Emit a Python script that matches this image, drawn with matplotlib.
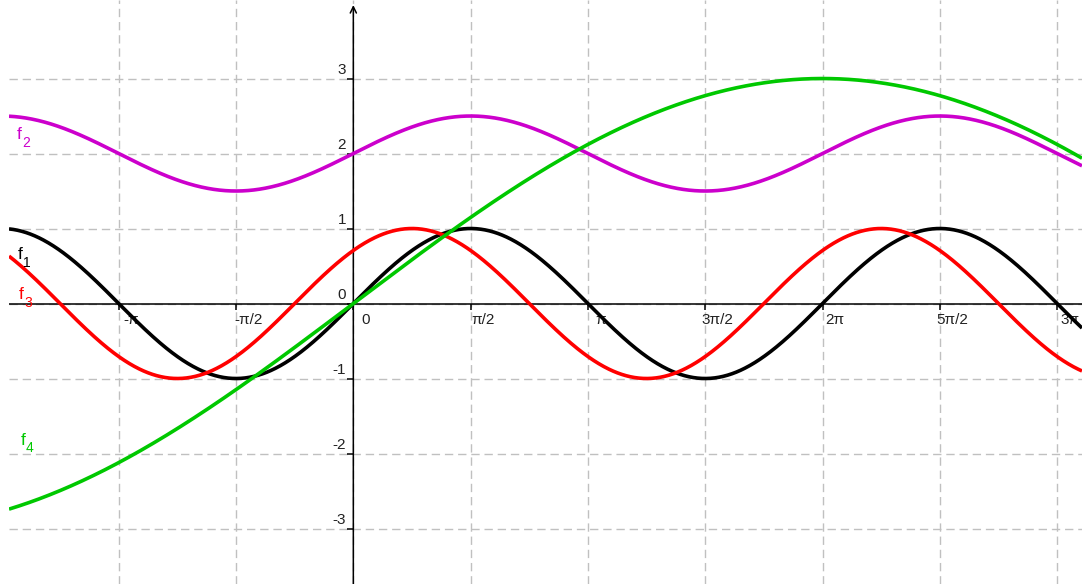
import numpy as np
import matplotlib
matplotlib.use('Agg')
import matplotlib.pyplot as plt
from matplotlib.markers import TICKDOWN, TICKLEFT

plt.rcParams['font.family'] = ['Liberation Sans', 'DejaVu Sans']

# functions: f(x) = offset + amp * sin(freq * x + phase)
names = ['f1', 'f2', 'f3', 'f4']
amps = [1.0, 0.5, 1.0, 3.0]
offsets = [0.0, 2.0, 0.0, 0.0]
freqs = [1.0, 1.0, 1.0, 0.25]
phases = [0.0, 0.0, np.pi / 4, 0.0]
colors = ['#000000', '#cc00cc', '#ff0000', '#00c800']

# axis ticks (multiples of pi/2) and labels
x_ticks = [k * np.pi / 2 for k in range(-2, 7)]
x_labels = ['-π', '-π/2', '0', 'π/2', 'π', '3π/2', '2π', '5π/2', '3π']
y_ticks = [-3, -2, -1, 0, 1, 2, 3]
y_labels = ['-3', '-2', '-1', '0', '1', '2', '3']

# where the name labels sit (data coords, left / baseline of the "f")
label_pos = [(-4.494, 0.589), (-4.51, 2.189), (-4.48, 0.056), (-4.46, -1.887)]

xmin, xmax = -4.611, 9.758
ymin, ymax = -3.74, 4.047

fig = plt.figure(figsize=(10.82, 5.84), dpi=100)
ax = fig.add_axes([9 / 1082, 0, 1 - 9 / 1082, 1])
ax.set_xlim(xmin, xmax)
ax.set_ylim(ymin, ymax)
for s in ax.spines.values():
    s.set_visible(False)

ax.set_xticks(x_ticks)
ax.set_yticks(y_ticks)
ax.tick_params(length=0, labelbottom=False, labelleft=False)
ax.grid(True, color='#c0c0c0', lw=1.0, linestyle=(0, (6, 3.5)))
ax.set_axisbelow(True)

# axes through the origin
ax.axhline(0, color='black', lw=1.1, zorder=2)
ax.annotate('', xy=(0, 3.98), xytext=(0, ymin),
            arrowprops=dict(arrowstyle='->,head_length=0.45,head_width=0.22',
                            lw=1.1, color='black', shrinkA=0, shrinkB=0),
            zorder=2)
ax.plot(x_ticks, [0] * len(x_ticks), ls='none', marker=TICKDOWN,
        ms=4, mew=1.1, color='black', zorder=2)
ax.plot([0] * len(y_ticks), y_ticks, ls='none', marker=TICKLEFT,
        ms=4, mew=1.1, color='black', zorder=2)

for xt, lab in zip(x_ticks, x_labels):
    ax.annotate(lab, (xt, 0), xytext=(9.0, -11.9), textcoords='offset points',
                ha='center', va='center', fontsize=11, color='#222222')
for yt, lab in zip(y_ticks, y_labels):
    ax.annotate(lab, (0, yt), xytext=(-5.3, 6.3), textcoords='offset points',
                ha='right', va='center', fontsize=11, color='#222222')

x = np.linspace(xmin, xmax, 1500)
for i in range(len(names)):
    y = offsets[i] + amps[i] * np.sin(freqs[i] * x + phases[i])
    ax.plot(x, y, color=colors[i], lw=2.6, zorder=3 + i, solid_capstyle='butt')
    lx, ly = label_pos[i]
    ax.annotate('f', (lx, ly), xytext=(0, 0), textcoords='offset points',
                color=colors[i], fontsize=12.5, ha='left', va='baseline', zorder=10)
    ax.annotate(names[i][1:], (lx, ly), xytext=(3.8, -5.3), textcoords='offset points',
                color=colors[i], fontsize=10, ha='left', va='baseline', zorder=10)

fig.savefig('out.png', dpi=100)
